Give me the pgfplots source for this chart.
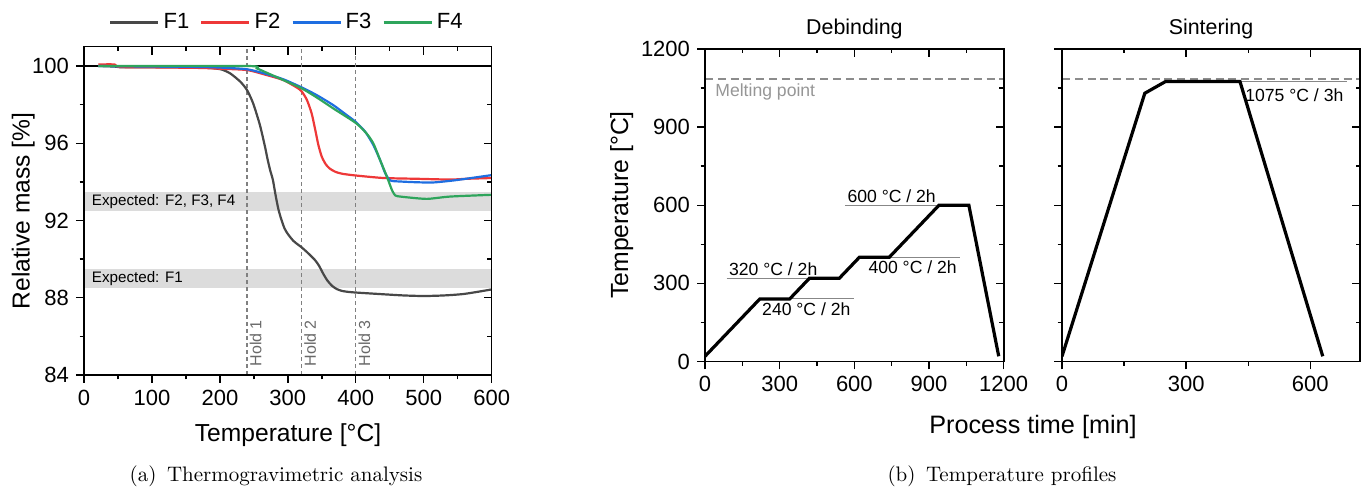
\documentclass[border=0pt]{standalone}
\usepackage{pgfplots}
\pgfplotsset{compat=1.18}
\usepackage{fontspec}
\setsansfont{Liberation Sans}
\newcommand\fs[1]{\fontsize{#1}{#1}\selectfont}

\definecolor{cF1}{RGB}{72,72,72}
\definecolor{cF2}{RGB}{238,56,56}
\definecolor{cF3}{RGB}{30,110,225}
\definecolor{cF4}{RGB}{46,165,92}
\definecolor{cBand}{RGB}{220,220,220}
\definecolor{cHold}{RGB}{128,128,128}
\definecolor{cHoldT}{RGB}{105,105,105}
\definecolor{cMelt}{RGB}{140,140,140}
\definecolor{cMeltT}{RGB}{150,150,150}
\definecolor{cAnn}{RGB}{135,135,135}

\pgfplotsset{
  myax/.style={
    scale only axis,
    axis line style={line width=0.8pt},
    every tick/.style={black, line width=0.7pt},
    major tick length=4pt,
    minor tick length=2.2pt,
    tick label style={font=\sffamily\fs{11}},
    /pgf/number format/assume math mode=true,
    /pgf/number format/set thousands separator={},
  },
  mainax/.style={myax, xtick pos=left, ytick pos=left, tick align=outside},
  overax/.style={myax, xtick pos=right, ytick pos=right, tick align=inside,
    xticklabels={}, yticklabels={}},
}

\pgfplotstableread{
x y
21 100.0
45 99.97
55 99.93
100 99.93
171 99.92
200 99.84
215 99.62
230 99.19
240 98.75
249 98.06
259 96.93
266.5 95.8
270 95.2
274 94.6
278 94.1
282 93.3
286 92.6
290 92.1
295 91.6
300 91.3
308 90.95
315 90.75
320 90.62
327 90.4
333 90.2
340 89.95
346 89.65
352 89.25
358 88.9
365 88.62
372 88.45
380 88.35
390 88.3
400 88.27
436 88.19
470 88.12
500 88.09
530 88.12
560 88.2
600 88.43
}\tFone

\pgfplotstableread{
x y
21 100.08
45 100.08
52 99.95
100 99.93
171 99.9
200 99.86
240 99.79
269 99.53
293.5 99.27
313 98.89
320 98.7
328 98.25
335 97.55
340 96.75
345 95.9
350 95.3
356 94.9
362 94.68
370 94.52
380 94.42
400 94.33
441 94.2
490 94.16
539 94.12
563 94.16
600 94.2
}\tFtwo

\pgfplotstableread{
x y
21 100.0
100 99.97
171 99.95
200 99.92
240 99.83
269 99.58
293.5 99.31
320.5 98.89
342.6 98.49
367 97.97
387 97.45
400 97.1
414 96.59
426 95.9
436 95.11
443.7 94.42
451 94.07
465 94.02
490 93.98
514 93.97
543 94.07
570 94.2
600 94.35
}\tFthree

\pgfplotstableread{
x y
21 100.0
240 100.0
254 99.88
269 99.65
293.5 99.27
320.5 98.84
342.6 98.37
367 97.8
400 97.05
416 96.5
426 95.98
436 95.11
446 94.25
453.5 93.55
458 93.3
461 93.26
475.6 93.2
505 93.12
539 93.24
600 93.33
}\tFfour

\pgfplotstableread{
x y
0 20
220 240
340 240
420 320
540 320
620 400
740 400
940 600
1060 600
1180 20
}\tDeb

\pgfplotstableread{
x y
0 20
200 1030
250 1075
430 1075
630 20
}\tSin

\begin{document}
\begin{tikzpicture}
\path[use as bounding box] (0,0) rectangle (684pt,245.5pt);

%================ (a) TGA =================
\begin{axis}[mainax, at={(42pt,58pt)}, anchor=south west,
  width=203.85pt, height=164.15pt,
  xmin=0, xmax=600, ymin=84, ymax=101,
  xtick={0,100,...,600}, ytick={84,88,92,96,100},
  minor x tick num=1, minor y tick num=1,
  legend style={at={(0.5,1)}, anchor=center, yshift=12pt, draw=none, fill=none,
    font=\sffamily\fs{11}, legend columns=4, inner sep=0pt,
    /tikz/every even column/.append style={column sep=3.5pt}},
  legend image code/.code={\draw[#1, line width=1.2pt] (0pt,0pt) -- (24pt,0pt);},
]
\addplot[draw=none, fill=cBand, forget plot] coordinates {(0,92.5) (600,92.5) (600,93.5) (0,93.5)};
\addplot[draw=none, fill=cBand, forget plot] coordinates {(0,88.5) (600,88.5) (600,89.5) (0,89.5)};
\addplot[black, line width=0.6pt, forget plot] coordinates {(0,100) (600,100)};
\addplot[cHold, line width=0.6pt, dash pattern=on 2pt off 1.5pt, forget plot] coordinates {(240,84) (240,101)};
\addplot[cHold, line width=0.6pt, dash pattern=on 2pt off 1.5pt, forget plot] coordinates {(320,84) (320,101)};
\addplot[cHold, line width=0.6pt, dash pattern=on 2pt off 1.5pt, forget plot] coordinates {(400,84) (400,101)};
\node[anchor=west, font=\sffamily\fs{7.6}, inner sep=0pt] at (axis cs:11,93) {Expected: F2, F3, F4};
\node[anchor=west, font=\sffamily\fs{7.6}, inner sep=0pt] at (axis cs:11,89) {Expected: F1};
\node[rotate=90, anchor=north west, font=\sffamily\fs{8}, text=cHoldT, inner sep=1.2pt] at (axis cs:240,84.3) {Hold 1};
\node[rotate=90, anchor=north west, font=\sffamily\fs{8}, text=cHoldT, inner sep=1.2pt] at (axis cs:320,84.3) {Hold 2};
\node[rotate=90, anchor=north west, font=\sffamily\fs{8}, text=cHoldT, inner sep=1.2pt] at (axis cs:400,84.3) {Hold 3};
\addplot[cF1, line width=1.1pt, smooth, tension=0.4] table[x=x,y=y] {\tFone};
\addlegendentry{F1}
\addplot[cF2, line width=1.1pt, smooth, tension=0.4] table[x=x,y=y] {\tFtwo};
\addlegendentry{F2}
\addplot[cF3, line width=1.1pt, smooth, tension=0.4] table[x=x,y=y] {\tFthree};
\addlegendentry{F3}
\addplot[cF4, line width=1.1pt, smooth, tension=0.4] table[x=x,y=y] {\tFfour};
\addlegendentry{F4}
\end{axis}
\begin{axis}[overax, at={(42pt,58pt)}, anchor=south west,
  width=203.85pt, height=164.15pt,
  xmin=0, xmax=600, ymin=84, ymax=101,
  xtick={0,100,...,600}, ytick={84,88,92,96,100},
  minor x tick num=1, minor y tick num=1]
\end{axis}

%================ (b) Debinding =================
\begin{axis}[mainax, at={(352.5pt,64.75pt)}, anchor=south west,
  width=149.35pt, height=156.25pt,
  xmin=0, xmax=1200, ymin=0, ymax=1200,
  xtick={0,300,...,1200}, ytick={0,300,...,1200},
  minor x tick num=1, minor y tick num=1,
]
\addplot[cMelt, line width=0.7pt, dash pattern=on 4pt off 2.4pt] coordinates {(0,1085) (1200,1085)};
\node[anchor=west, font=\sffamily\fs{8.8}, text=cMeltT, inner sep=0pt] at (axis cs:40,1036) {Melting point};
\addplot[cAnn, line width=0.5pt] coordinates {(87,320) (420,320)};
\addplot[cAnn, line width=0.5pt] coordinates {(342,240) (598,240)};
\addplot[cAnn, line width=0.5pt] coordinates {(743,400) (1025,400)};
\addplot[cAnn, line width=0.5pt] coordinates {(563,600) (940,600)};
\node[anchor=south west, font=\sffamily\fs{8.8}, inner sep=1pt] at (axis cs:87,320) {320 °C / 2h};
\node[anchor=north east, font=\sffamily\fs{8.8}, inner sep=1.5pt] at (axis cs:598,240) {240 °C / 2h};
\node[anchor=north east, font=\sffamily\fs{8.8}, inner sep=1.5pt] at (axis cs:1025,400) {400 °C / 2h};
\node[anchor=south west, font=\sffamily\fs{8.8}, inner sep=1pt] at (axis cs:563,600) {600 °C / 2h};
\addplot[black, line width=1.6pt] table[x=x,y=y] {\tDeb};
\end{axis}
\begin{axis}[overax, at={(352.5pt,64.75pt)}, anchor=south west,
  width=149.35pt, height=156.25pt,
  xmin=0, xmax=1200, ymin=0, ymax=1200,
  xtick={0,300,...,1200}, ytick={0,300,...,1200},
  minor x tick num=1, minor y tick num=1]
\end{axis}

%================ (b) Sintering =================
\begin{axis}[mainax, at={(531pt,64.75pt)}, anchor=south west,
  width=149pt, height=156.25pt,
  xmin=0, xmax=720, ymin=0, ymax=1200,
  xtick={0,300,600}, ytick={0,300,...,1200}, yticklabels={},
  minor x tick num=1, minor y tick num=1,
]
\addplot[cMelt, line width=0.7pt, dash pattern=on 4pt off 2.4pt] coordinates {(0,1085) (720,1085)};
\addplot[cAnn, line width=0.5pt] coordinates {(427,1075) (688,1075)};
\node[anchor=north east, font=\sffamily\fs{8.8}, inner sep=1.5pt] at (axis cs:688,1060) {1075 °C / 3h};
\addplot[black, line width=1.6pt] table[x=x,y=y] {\tSin};
\end{axis}
\begin{axis}[overax, at={(531pt,64.75pt)}, anchor=south west,
  width=149pt, height=156.25pt,
  xmin=0, xmax=720, ymin=0, ymax=1200,
  xtick={0,300,600}, ytick={0,300,...,1200},
  minor x tick num=1, minor y tick num=1]
\end{axis}

%================ labels =================
\node[anchor=base, font=\sffamily\fs{10.7}] at (427.2pt,228pt) {Debinding};
\node[anchor=base, font=\sffamily\fs{10.7}] at (605.5pt,228pt) {Sintering};
\node[rotate=90, anchor=base, font=\sffamily\fs{12.3}] at (14.8pt,140pt) {Relative mass [\%]};
\node[anchor=base, font=\sffamily\fs{12.3}] at (144pt,24.65pt) {Temperature [°C]};
\node[rotate=90, anchor=base, font=\sffamily\fs{12.4}] at (314pt,143pt) {Temperature [°C]};
\node[anchor=base, font=\sffamily\fs{12.6}] at (516.5pt,28.5pt) {Process time [min]};
\node[anchor=base, font=\fs{10.5}] at (138pt,4.7pt) {(a)\enspace Thermogravimetric analysis};
\node[anchor=base, font=\fs{10.5}] at (501pt,4.7pt) {(b)\enspace Temperature profiles};
\end{tikzpicture}
\end{document}
